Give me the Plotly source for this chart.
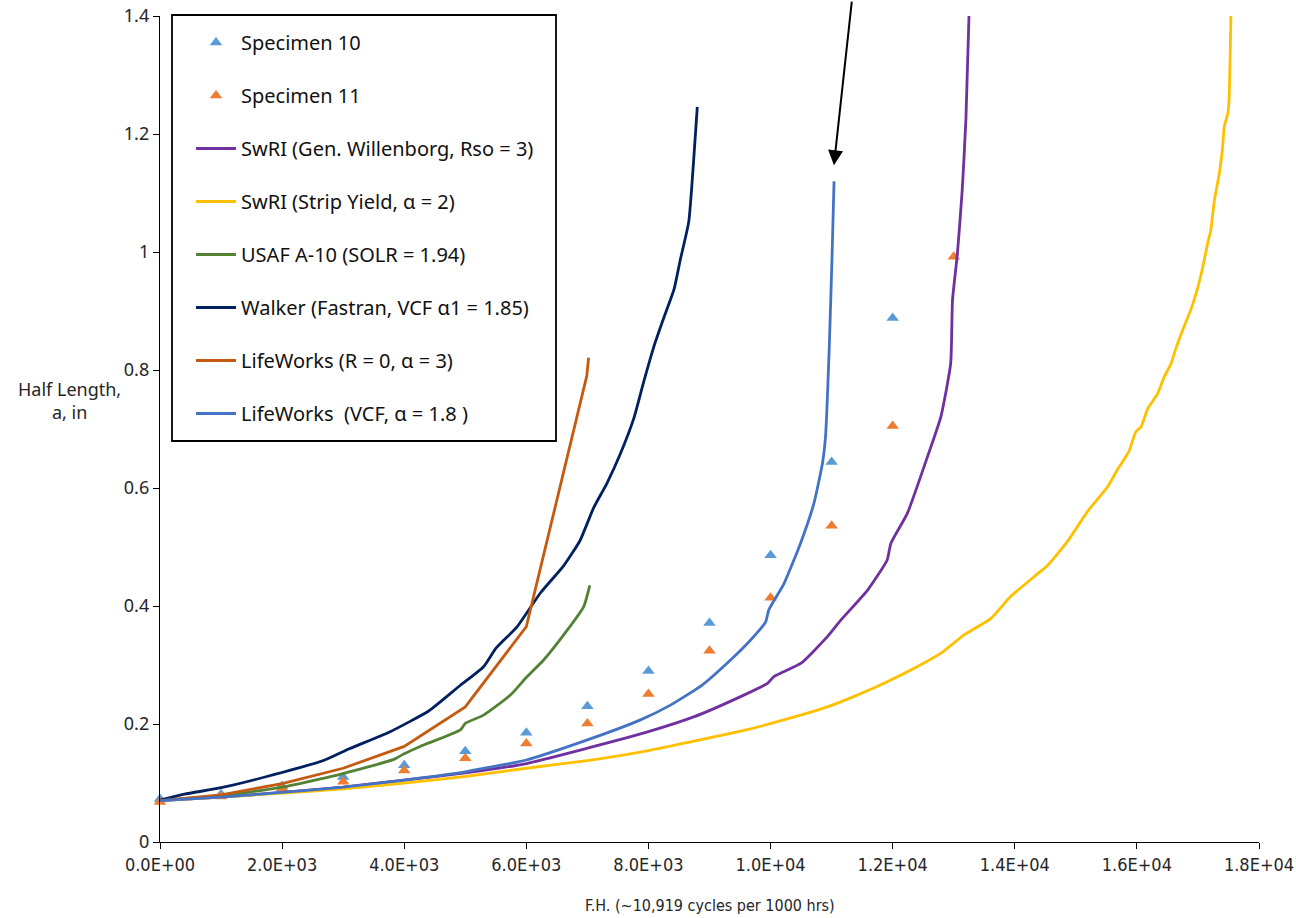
import plotly.graph_objects as go

# ---- axis ticks ----
x_tick_vals = [0, 2000, 4000, 6000, 8000, 10000, 12000, 14000, 16000, 18000]
x_tick_text = ["0.0E+00", "2.0E+03", "4.0E+03", "6.0E+03", "8.0E+03",
               "1.0E+04", "1.2E+04", "1.4E+04", "1.6E+04", "1.8E+04"]

# ---- test specimens ----
spec10_x = [0, 1000, 2000, 3000, 4000, 5000, 6000, 7000, 8000, 9000, 10000, 11000, 12000]
spec10_y = [0.073, 0.081, 0.095, 0.110, 0.130, 0.154, 0.185, 0.230, 0.290, 0.371, 0.486, 0.644, 0.888]

spec11_x = [0, 1000, 2000, 3000, 4000, 5000, 6000, 7000, 8000, 9000, 10000, 11000, 12000, 13000]
spec11_y = [0.068, 0.077, 0.091, 0.102, 0.121, 0.142, 0.167, 0.201, 0.251, 0.324, 0.414, 0.536, 0.705, 0.992]

# ---- predictions ----
willenborg_x = [0, 1000, 2000, 3000, 4000, 5000, 6000, 7000, 8000, 8740, 9500, 9950, 10050,
                10500, 10930, 11150, 11590, 11910, 11970, 12240, 12570, 12790, 12950,
                12980, 13060, 13140, 13200, 13250]
willenborg_y = [0.070, 0.076, 0.084, 0.093, 0.105, 0.117, 0.133, 0.159, 0.187, 0.212, 0.246, 0.269, 0.280,
                0.303, 0.348, 0.376, 0.427, 0.478, 0.506, 0.557, 0.653, 0.721, 0.811,
                0.918, 0.997, 1.106, 1.226, 1.400]

strip_x = [0, 1000, 2000, 3000, 4000, 5000, 6000, 7000, 8000, 9600, 10490, 10930, 11420, 11860,
           12400, 12790, 13170, 13610, 13930, 14320, 14540, 14860, 15190, 15520, 15680,
           15870, 15980, 16070, 16180, 16340, 16450, 16560, 16640, 16750, 16890, 17000,
           17080, 17160, 17210, 17270, 17350, 17400, 17430, 17490, 17510, 17540]
strip_y = [0.070, 0.076, 0.083, 0.090, 0.100, 0.111, 0.125, 0.138, 0.155, 0.190, 0.215, 0.229, 0.249, 0.269,
           0.297, 0.320, 0.351, 0.379, 0.416, 0.450, 0.469, 0.509, 0.560, 0.602, 0.631,
           0.662, 0.695, 0.704, 0.735, 0.760, 0.789, 0.811, 0.837, 0.868, 0.904, 0.941,
           0.975, 1.015, 1.037, 1.088, 1.133, 1.173, 1.212, 1.235, 1.258, 1.400]

usaf_x = [0, 1000, 2000, 3000, 3830, 3990, 4260, 4920, 5000, 5300, 5740, 6010, 6280, 6670, 6940, 7040]
usaf_y = [0.071, 0.078, 0.093, 0.116, 0.140, 0.149, 0.162, 0.190, 0.201, 0.215, 0.249, 0.280, 0.308, 0.359, 0.399, 0.435]

walker_x = [0, 400, 1000, 1750, 2700, 3100, 3770, 4400, 4900, 5300, 5500, 5850, 6230, 6610,
            6880, 7100, 7320, 7540, 7760, 7920, 8090, 8250, 8420, 8520, 8660, 8740, 8800]
walker_y = [0.071, 0.081, 0.092, 0.111, 0.139, 0.158, 0.187, 0.222, 0.264, 0.297, 0.328, 0.365, 0.422, 0.468,
            0.511, 0.566, 0.608, 0.658, 0.718, 0.779, 0.840, 0.888, 0.937, 0.986, 1.051, 1.155, 1.246]

lw_r0_x = [0, 1000, 2000, 3000, 4000, 5000, 6000, 6990, 7020]
lw_r0_y = [0.070, 0.080, 0.099, 0.125, 0.162, 0.229, 0.365, 0.790, 0.821]

lw_vcf_x = [0, 1000, 2000, 3000, 4000, 5000, 6000, 7000, 7870, 8360, 8880, 9340, 9670, 9920,
            9970, 10220, 10490, 10710, 10850, 10900, 10960, 11010, 11040]
lw_vcf_y = [0.070, 0.076, 0.084, 0.093, 0.105, 0.119, 0.139, 0.173, 0.207, 0.232, 0.266, 0.308, 0.342, 0.373,
            0.393, 0.438, 0.506, 0.574, 0.642, 0.687, 0.834, 1.003, 1.120]

# arrow pointing at the end of the LifeWorks VCF prediction
arrow_head = (11038, 1.147)
arrow_tail = (11333, 1.427)

LEGEND_FONT = "Noto Sans, Open Sans, sans-serif"
NARROW_FONT = "Liberation Sans Narrow, DejaVu Sans Condensed, Arial Narrow, sans-serif"

fig = go.Figure()

def add_markers(name, xs, ys, color, group):
    fig.add_trace(go.Scatter(
        x=xs, y=ys, mode="markers", name=name, legendgroup=group,
        marker=dict(symbol="triangle-up", size=11, color=color, line=dict(width=0)),
        cliponaxis=False,
    ))

def add_line(name, xs, ys, color, group, smooth=True):
    line = dict(color=color, width=2.8)
    if smooth:
        line.update(shape="spline", smoothing=0.5)
    fig.add_trace(go.Scatter(
        x=xs, y=ys, mode="lines", name=name, legendgroup=group, line=line,
    ))

add_markers("Specimen 10", spec10_x, spec10_y, "#5B9BD5", "g1")
add_markers("Specimen 11", spec11_x, spec11_y, "#ED7D31", "g2")
add_line("SwRI (Gen. Willenborg, Rso = 3)", willenborg_x, willenborg_y, "#7030A0", "g3")
add_line("SwRI (Strip Yield, α = 2)", strip_x, strip_y, "#FFC000", "g4")
add_line("USAF A-10 (SOLR = 1.94)", usaf_x, usaf_y, "#548235", "g5")
add_line("Walker (Fastran, VCF α1 = 1.85)", walker_x, walker_y, "#002060", "g6")
add_line("LifeWorks (R = 0, α = 3)", lw_r0_x, lw_r0_y, "#C55A11", "g7", smooth=False)
add_line("LifeWorks  (VCF, α = 1.8 )", lw_vcf_x, lw_vcf_y, "#4472C4", "g8")

# plot area in pixels: x 160..1259, y 16..842
L, R, T, B = 160, 1259, 16, 842
W, H = R - L, B - T

def px_x(p):
    return (p - L) / W

def px_y(p):
    return (B - p) / H

fig.add_shape(type="rect", xref="paper", yref="paper",
              x0=px_x(172), x1=px_x(556), y0=px_y(441), y1=px_y(15),
              line=dict(color="black", width=1.8), fillcolor="white", layer="below")

fig.add_annotation(x=arrow_head[0], y=arrow_head[1], ax=arrow_tail[0], ay=arrow_tail[1],
                   xref="x", yref="y", axref="x", ayref="y", text="",
                   showarrow=True, arrowhead=2, arrowsize=1.5, arrowwidth=2,
                   arrowcolor="black", standoff=0)

fig.add_annotation(x=px_x(69), y=px_y(400), xref="paper", yref="paper",
                   text="Half Length,<br>a, in", showarrow=False,
                   xanchor="center", yanchor="middle", align="center",
                   font=dict(family=LEGEND_FONT, size=18, color="#262626"))

fig.add_annotation(x=0.5, y=px_y(905), xref="paper", yref="paper",
                   text="F.H. (~10,919 cycles per 1000 hrs)", showarrow=False,
                   xanchor="center", yanchor="middle",
                   font=dict(family=NARROW_FONT, size=16, color="#262626"))

fig.update_layout(
    width=1296, height=918,
    margin=dict(l=L, r=1296 - R, t=T, b=918 - B, pad=0, autoexpand=False),
    paper_bgcolor="white", plot_bgcolor="white",
    showlegend=True,
    legend=dict(
        x=px_x(191), y=px_y(23), xanchor="left", yanchor="top",
        bgcolor="rgba(0,0,0,0)", borderwidth=0,
        traceorder="grouped", tracegroupgap=24, itemwidth=40,
        font=dict(family=LEGEND_FONT, size=20, color="#111111"),
    ),
    xaxis=dict(
        range=[0, 18000], tickvals=x_tick_vals, ticktext=x_tick_text,
        showgrid=False, zeroline=False, showline=True, linecolor="black", linewidth=1.3,
        ticks="outside", ticklen=6, tickcolor="black", tickwidth=1.3,
        tickfont=dict(family=NARROW_FONT, size=18, color="#262626"),
        fixedrange=True,
    ),
    yaxis=dict(
        range=[0, 1.4], dtick=0.2, tick0=0,
        showgrid=False, zeroline=False, showline=True, linecolor="black", linewidth=1.3,
        ticks="outside", ticklen=6, tickcolor="black", tickwidth=1.3,
        tickfont=dict(family=LEGEND_FONT, size=18, color="#262626"),
        fixedrange=True,
    ),
)

fig.write_html("out.html")
